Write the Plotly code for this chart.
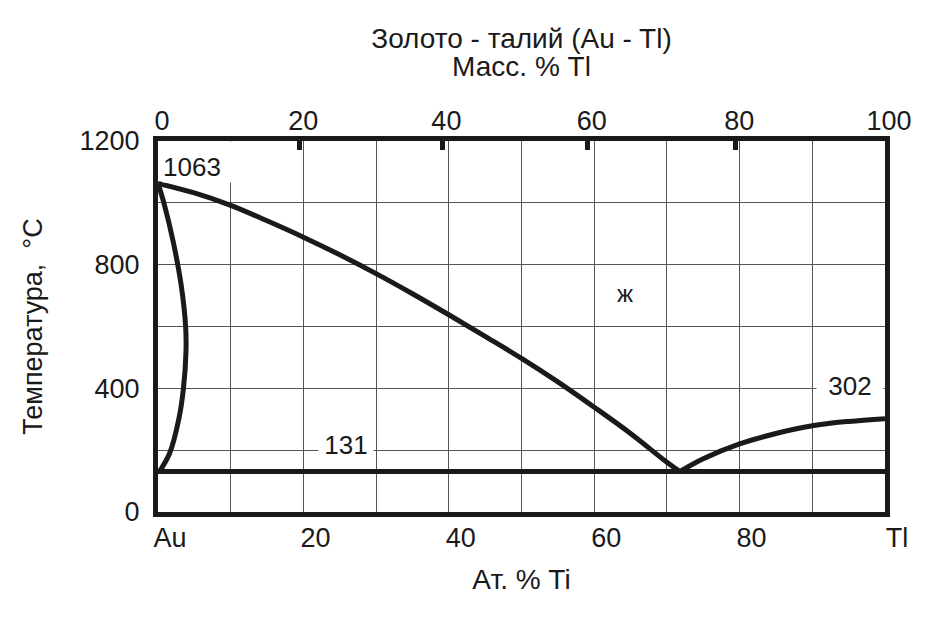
import plotly.graph_objects as go

# ---------------- data ----------------
# liquidus, Au side (at. % Tl, °C)
liq_left_x = [0, 5, 10, 15, 20, 25, 30, 35, 40, 45, 50, 55, 60, 65, 70, 71.8]
liq_left_T = [1063, 1032, 992, 942, 889, 832, 771, 706, 638, 568, 497, 421, 339, 254, 161, 131]

# solidus / solvus of the Au solid solution
sol_x = [0, 0.9, 2.1, 3.2, 3.8, 3.85, 3.5, 2.9, 1.6, 0.2]
sol_T = [1063, 992, 873, 732, 600, 520, 400, 305, 190, 131]

# liquidus, Tl side
liq_right_x = [71.8, 75, 80, 85, 90, 95, 100]
liq_right_T = [131, 172, 220, 254, 279, 293, 302]

# eutectic horizontal
eut_x = [0, 100]
eut_T = [131, 131]

# bottom axis (at. %)
x_tickvals = [0, 10, 20, 30, 40, 50, 60, 70, 80, 90, 100]
x_ticktext = ["Au", "", "20", "", "40", "", "60", "", "80", "", "Tl"]

# left axis
y_tickvals = [0, 200, 400, 600, 800, 1000, 1200]
y_ticktext = ["0", "", "400", "", "800", "", "1200"]

# top axis (mass % Tl)
mass_ticks = [0, 20, 40, 60, 80, 100]
M_AU, M_TL = 196.97, 204.38


def mass_to_at(w):
    a = w / M_TL
    b = (100 - w) / M_AU
    return 100 * a / (a + b)


top_tickvals = [mass_to_at(w) for w in mass_ticks]
top_ticktext = [str(w) for w in mass_ticks]

FONT = "Arial, Liberation Sans, sans-serif"
INK = "#1a1a1a"
LW = 5
W, H = 929, 609

fig = go.Figure()
for xs, ys in [(liq_left_x, liq_left_T), (sol_x, sol_T), (liq_right_x, liq_right_T)]:
    fig.add_trace(go.Scatter(x=xs, y=ys, mode="lines",
                             line=dict(color=INK, width=LW, shape="spline", smoothing=1),
                             showlegend=False, hoverinfo="skip"))
fig.add_trace(go.Scatter(x=eut_x, y=eut_T, mode="lines",
                         line=dict(color=INK, width=LW),
                         showlegend=False, hoverinfo="skip"))
# carrier for the top (mass %) axis
fig.add_trace(go.Scatter(x=[0, 100], y=[0, 0], xaxis="x2", mode="none",
                         showlegend=False, hoverinfo="skip"))

fig.update_layout(
    width=W, height=H,
    margin=dict(l=150, r=52, t=133, b=105),
    paper_bgcolor="white", plot_bgcolor="white",
    font=dict(family=FONT, size=27, color=INK),
    title=dict(text="Золото - талий (Au - Tl)",
               x=0.5, xref="paper", xanchor="center",
               y=1 - 30 / H, yref="container", yanchor="middle",
               font=dict(size=28, family=FONT, color=INK)),
    xaxis=dict(range=[0, 100], tickmode="array", tickvals=x_tickvals, ticktext=x_ticktext,
               showgrid=True, gridcolor="#555", gridwidth=1, zeroline=False,
               showline=True, linecolor=INK, linewidth=5, mirror=True,
               ticks="", ticklabelstandoff=-2, ticklabelshift=12,
               tickfont=dict(size=27),
               title=dict(text="Ат. % Ti", standoff=18, font=dict(size=28))),
    xaxis2=dict(range=[0, 100], overlaying="x", side="top", anchor="y",
                tickmode="array", tickvals=top_tickvals, ticktext=top_ticktext,
                showgrid=False, zeroline=False, showline=False,
                ticks="inside", ticklen=9, tickwidth=4.5, tickcolor=INK,
                ticklabelshift=4, ticklabelstandoff=5,
                tickfont=dict(size=27),
                title=dict(text="Масс. % Tl", standoff=20, font=dict(size=28))),
    yaxis=dict(range=[0, 1200], tickmode="array", tickvals=y_tickvals, ticktext=y_ticktext,
               showgrid=True, gridcolor="#555", gridwidth=1, zeroline=False,
               showline=True, linecolor=INK, linewidth=5, mirror=True,
               ticks="", ticklabelstandoff=8,
               tickfont=dict(size=27),
               title=dict(text="Температура,  °C", standoff=31, font=dict(size=27))),
)

ann_font = dict(family=FONT, size=26, color=INK)
fig.add_annotation(x=64.2, y=708, text="ж", showarrow=False,
                   font=dict(family=FONT, size=24, color=INK))
fig.add_annotation(x=95.2, y=407, text="302", showarrow=False, font=ann_font,
                   bgcolor="white", width=66, borderpad=0)
fig.add_annotation(x=25.8, y=216, text="131", showarrow=False, font=ann_font,
                   bgcolor="white", width=54, borderpad=0)
fig.add_annotation(x=0.6, y=1200, xanchor="left", yanchor="top", text="1063",
                   showarrow=False, font=ann_font, bgcolor="white",
                   width=80, height=40, align="left", valign="bottom", borderpad=0)

fig.write_html("out.html")
